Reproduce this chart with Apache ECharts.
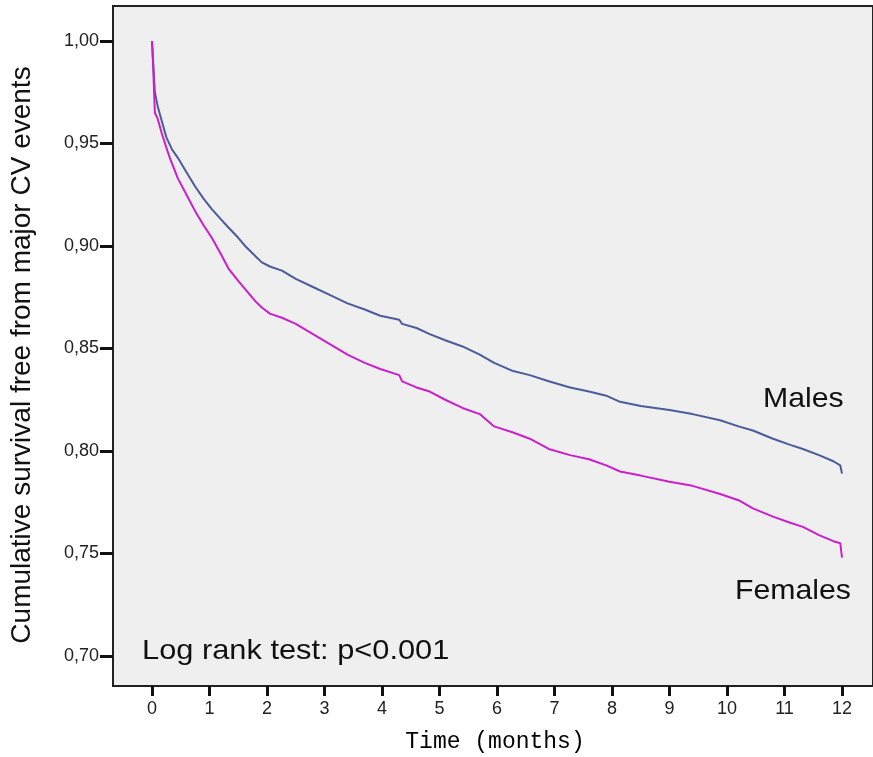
<!DOCTYPE html>
<html>
<head>
<meta charset="utf-8">
<script src="https://cdn.jsdelivr.net/npm/echarts@6/dist/echarts.min.js"></script>
<style>
  html, body { margin: 0; padding: 0; background: #fff; }
  #main { width: 873px; height: 757px; }
</style>
</head>
<body>
<div id="main"></div>
<script>
// survival curves (months, cumulative survival)
var maleTime = [0, 0.02, 0.05, 0.1, 0.17, 0.25, 0.35, 0.45, 0.6, 0.75, 0.9, 1.04, 1.2, 1.33, 1.5, 1.62, 1.8, 1.91, 2.05, 2.26, 2.5, 2.8, 3.1, 3.4, 3.7, 3.97, 4.3, 4.35, 4.6, 4.83, 5.1, 5.4, 5.7, 5.95, 6.28, 6.57, 6.9, 7.27, 7.6, 7.9, 8.14, 8.5, 9.0, 9.4, 9.88, 10.2, 10.45, 10.8, 11.1, 11.32, 11.6, 11.85, 11.97, 12.0];
var maleSurv = [1.000, 0.990, 0.975, 0.968, 0.961, 0.953, 0.947, 0.943, 0.936, 0.929, 0.923, 0.918, 0.913, 0.909, 0.904, 0.900, 0.895, 0.892, 0.890, 0.888, 0.884, 0.880, 0.876, 0.872, 0.869, 0.866, 0.864, 0.862, 0.860, 0.857, 0.854, 0.851, 0.847, 0.843, 0.839, 0.837, 0.834, 0.831, 0.829, 0.827, 0.824, 0.822, 0.820, 0.818, 0.815, 0.812, 0.810, 0.806, 0.803, 0.801, 0.798, 0.795, 0.793, 0.789];

var femaleTime = [0, 0.02, 0.05, 0.1, 0.17, 0.25, 0.31, 0.45, 0.6, 0.75, 0.9, 1.04, 1.2, 1.33, 1.5, 1.62, 1.8, 1.91, 2.05, 2.26, 2.5, 2.8, 3.1, 3.4, 3.7, 3.97, 4.3, 4.35, 4.6, 4.83, 5.1, 5.4, 5.7, 5.95, 6.28, 6.57, 6.9, 7.27, 7.6, 7.9, 8.14, 8.5, 9.0, 9.4, 9.88, 10.2, 10.45, 10.8, 11.1, 11.32, 11.6, 11.85, 11.97, 12.0];
var femaleSurv = [1.000, 0.988, 0.965, 0.962, 0.955, 0.948, 0.943, 0.933, 0.925, 0.917, 0.910, 0.904, 0.896, 0.889, 0.883, 0.879, 0.873, 0.870, 0.867, 0.865, 0.862, 0.857, 0.852, 0.847, 0.843, 0.840, 0.837, 0.834, 0.831, 0.829, 0.825, 0.821, 0.818, 0.812, 0.809, 0.806, 0.801, 0.798, 0.796, 0.793, 0.790, 0.788, 0.785, 0.783, 0.779, 0.776, 0.772, 0.768, 0.765, 0.763, 0.759, 0.756, 0.755, 0.748];

var xTicks = [0, 1, 2, 3, 4, 5, 6, 7, 8, 9, 10, 11, 12];
var yTicks = [0.70, 0.75, 0.80, 0.85, 0.90, 0.95, 1.00];

function pairs(t, v) {
  var out = [];
  for (var i = 0; i < t.length; i++) out.push([t[i], v[i]]);
  return out;
}

var chart = echarts.init(document.getElementById('main'), null, { renderer: 'canvas' });
chart.setOption({
  animation: false,
  backgroundColor: '#ffffff',
  grid: {
    left: 113,
    right: 0,
    top: 6,
    bottom: 71,
    show: true,
    backgroundColor: '#efefef',
    borderColor: '#222',
    borderWidth: 2
  },
  xAxis: {
    type: 'value',
    min: -0.678,
    max: 12.539,
    splitLine: { show: false },
    axisLine: { show: true, onZero: false, lineStyle: { color: '#222', width: 2 } },
    axisTick: { show: true, customValues: xTicks, length: 10, lineStyle: { color: '#111', width: 3 } },
    axisLabel: {
      customValues: xTicks,
      margin: 14,
      color: '#222',
      fontFamily: 'Liberation Sans, Arial',
      fontSize: 18
    }
  },
  yAxis: {
    type: 'value',
    min: 0.68537,
    max: 1.01707,
    splitLine: { show: false },
    axisLine: { show: true, onZero: false, lineStyle: { color: '#222', width: 2 } },
    axisTick: { show: true, customValues: yTicks, length: 13, lineStyle: { color: '#111', width: 3 } },
    axisLabel: {
      customValues: yTicks,
      margin: 14,
      color: '#222',
      fontFamily: 'Liberation Sans, Arial',
      fontSize: 18,
      formatter: function (v) { return v.toFixed(2).replace('.', ','); }
    }
  },
  series: [
    {
      name: 'Males',
      type: 'line',
      symbol: 'none',
      lineStyle: { color: '#4b5b9b', width: 2 },
      data: pairs(maleTime, maleSurv)
    },
    {
      name: 'Females',
      type: 'line',
      symbol: 'none',
      lineStyle: { color: '#cc1fcc', width: 2 },
      data: pairs(femaleTime, femaleSurv)
    }
  ],
  graphic: [
    {
      type: 'text', left: 763, top: 385, scaleX: 1.08,
      style: { text: 'Males', fontFamily: 'Liberation Sans, Arial', fontSize: 28, fill: '#111' }
    },
    {
      type: 'text', left: 735, top: 577, scaleX: 1.08,
      style: { text: 'Females', fontFamily: 'Liberation Sans, Arial', fontSize: 28, fill: '#111' }
    },
    {
      type: 'text', left: 142, top: 637, scaleX: 1.1,
      style: { text: 'Log rank test: p<0.001', fontFamily: 'Liberation Sans, Arial', fontSize: 28, fill: '#111' }
    },
    {
      type: 'text', x: 495, y: 742,
      style: { text: 'Time (months)', fontFamily: 'Liberation Mono, DejaVu Sans Mono, monospace', fontSize: 23, fill: '#000', align: 'center', verticalAlign: 'middle' }
    },
    {
      type: 'text', x: 22, y: 355, rotation: Math.PI / 2,
      style: { text: 'Cumulative survival free from major CV events', fontFamily: 'Liberation Sans, Arial', fontSize: 28, fill: '#111', align: 'center', verticalAlign: 'middle' }
    }
  ]
});
</script>
</body>
</html>
